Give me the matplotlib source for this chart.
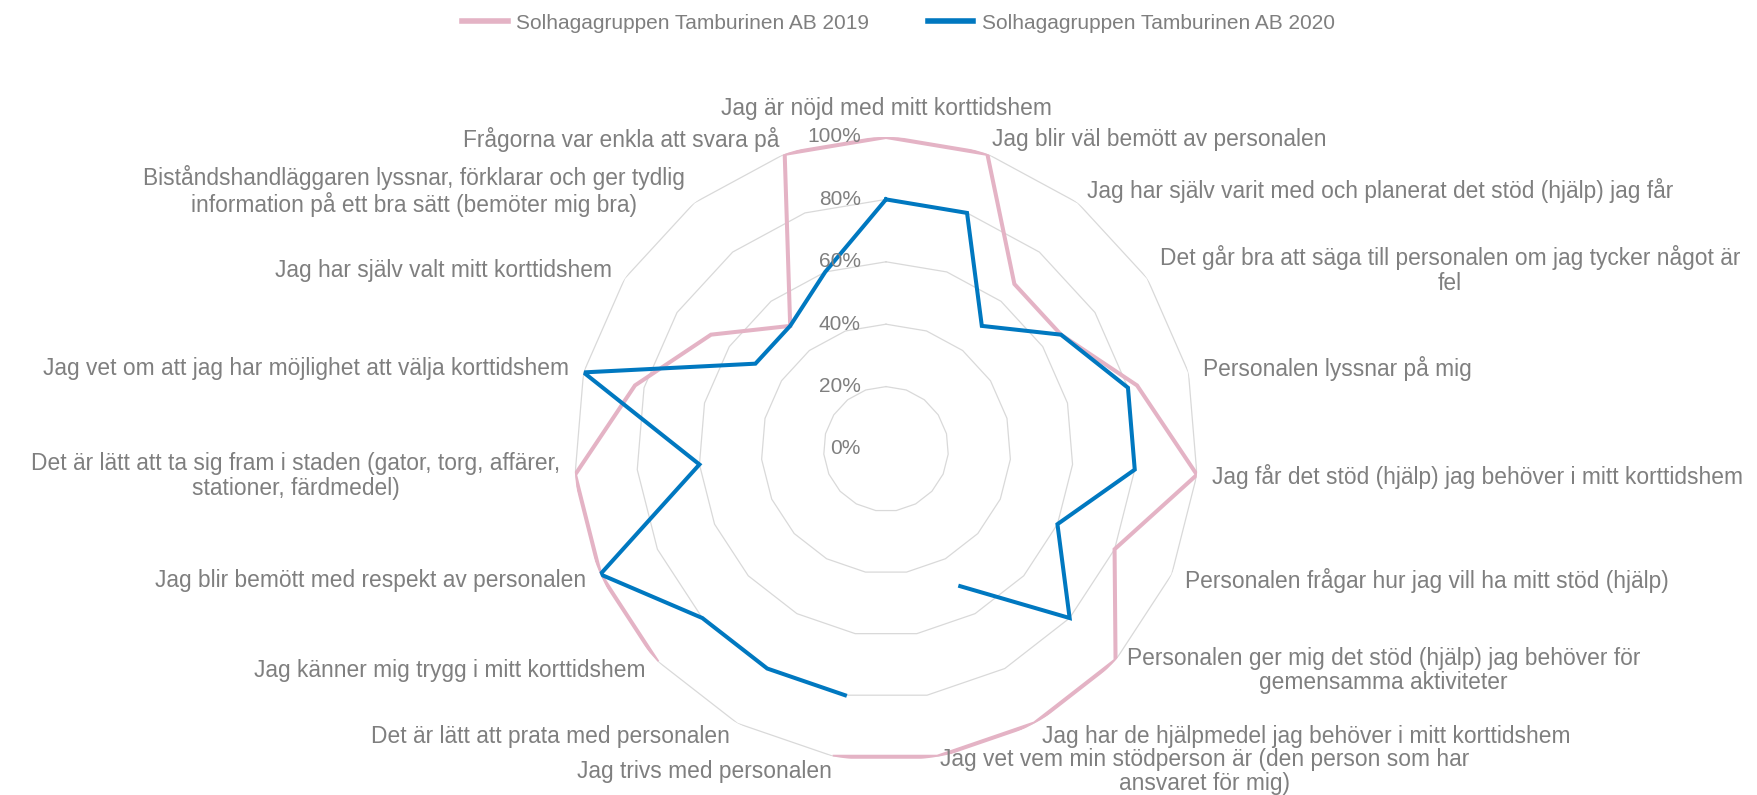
import numpy as np
import matplotlib
matplotlib.use("Agg")
import matplotlib.pyplot as plt
from matplotlib.lines import Line2D

plt.rcParams['font.family'] = ['Liberation Sans', 'DejaVu Sans']

categories = [
    "Jag är nöjd med mitt korttidshem",
    "Jag blir väl bemött av personalen",
    "Jag har själv varit med och planerat det stöd (hjälp) jag får",
    "Det går bra att säga till personalen om jag tycker något är\nfel",
    "Personalen lyssnar på mig",
    "Jag får det stöd (hjälp) jag behöver i mitt korttidshem",
    "Personalen frågar hur jag vill ha mitt stöd (hjälp)",
    "Personalen ger mig det stöd (hjälp) jag behöver för\ngemensamma aktiviteter",
    "Jag har de hjälpmedel jag behöver i mitt korttidshem",
    "Jag vet vem min stödperson är (den person som har\nansvaret för mig)",
    "Jag trivs med personalen",
    "Det är lätt att prata med personalen",
    "Jag känner mig trygg i mitt korttidshem",
    "Jag blir bemött med respekt av personalen",
    "Det är lätt att ta sig fram i staden (gator, torg, affärer,\nstationer, färdmedel)",
    "Jag vet om att jag har möjlighet att välja korttidshem",
    "Jag har själv valt mitt korttidshem",
    "Biståndshandläggaren lyssnar, förklarar och ger tydlig\ninformation på ett bra sätt (bemöter mig bra)",
    "Frågorna var enkla att svara på",
]

nan = np.nan
values_2019 = [100, 100, 67, 67, 83, 100, 80, 100, 100, 100, 100, nan, 100, 100, 100, 83, 67, 50, 100]
values_2020 = [80, 80, 50, 67, 80, 80, 60, 80, 50, nan, 80, 80, 80, 100, 60, 100, 50, 50, 60]

series_names = ["Solhagagruppen Tamburinen AB 2019", "Solhagagruppen Tamburinen AB 2020"]
series_colors = ["#E4B3C5", "#0078C0"]

tick_values = [0, 20, 40, 60, 80, 100]
tick_labels = ["0%", "20%", "40%", "60%", "80%", "100%"]

W, H = 1758, 795
fig = plt.figure(figsize=(W / 100, H / 100), dpi=100)
cx, cy, R = 886, 795 - 449, 312
ax = fig.add_axes([(cx - R) / W, (cy - R) / H, 2 * R / W, 2 * R / H], projection='polar')
ax.set_theta_zero_location('N')
ax.set_theta_direction(-1)
ax.set_ylim(0, 100)
ax.set_xticks([])
ax.set_yticks([])
ax.grid(False)
ax.spines['polar'].set_visible(False)
ax.patch.set_alpha(0)

n = len(categories)
theta = np.arange(n) * 2 * np.pi / n
theta_closed = np.append(theta, theta[0])

text_color = "#7F7F7F"

for v in tick_values[1:]:
    ax.plot(theta_closed, np.full(n + 1, v), color="#D9D9D9", lw=0.9, zorder=1)

for vals, name, col in zip([values_2019, values_2020], series_names, series_colors):
    vv = np.append(np.array(vals, dtype=float), vals[0])
    ax.plot(theta_closed, vv, color=col, lw=2.9, zorder=3, solid_joinstyle='miter', label=name)

for v, lab in zip(tick_values, tick_labels):
    ax.annotate(lab, xy=(0, v), xytext=(-25, 0), textcoords='offset pixels',
                ha='right', va='center', fontsize=15, color=text_color, zorder=4)

d = 15
for t, lab in zip(theta, categories):
    s, c = np.sin(t), np.cos(t)
    if abs(s) < 0.05:
        ha, va = 'center', 'bottom'
        off = (0, d + 2)
    else:
        ha = 'left' if s > 0 else 'right'
        va = 'center'
        off = (d * s, d * c)
    ax.annotate(lab, xy=(t, 100), xytext=off, textcoords='offset pixels',
                ha=ha, va=va, multialignment='center', fontsize=16.4,
                color=text_color, annotation_clip=False, linespacing=1.1)

handles = [Line2D([0], [0], color=col, lw=4) for col in series_colors]
fig.legend(handles, series_names, loc='center', bbox_to_anchor=(0.511, 0.971), ncol=2,
           frameon=False, fontsize=15, labelcolor=text_color, handlelength=2.2,
           handletextpad=0.4, columnspacing=2.8)

fig.savefig("out.png", dpi=100)
